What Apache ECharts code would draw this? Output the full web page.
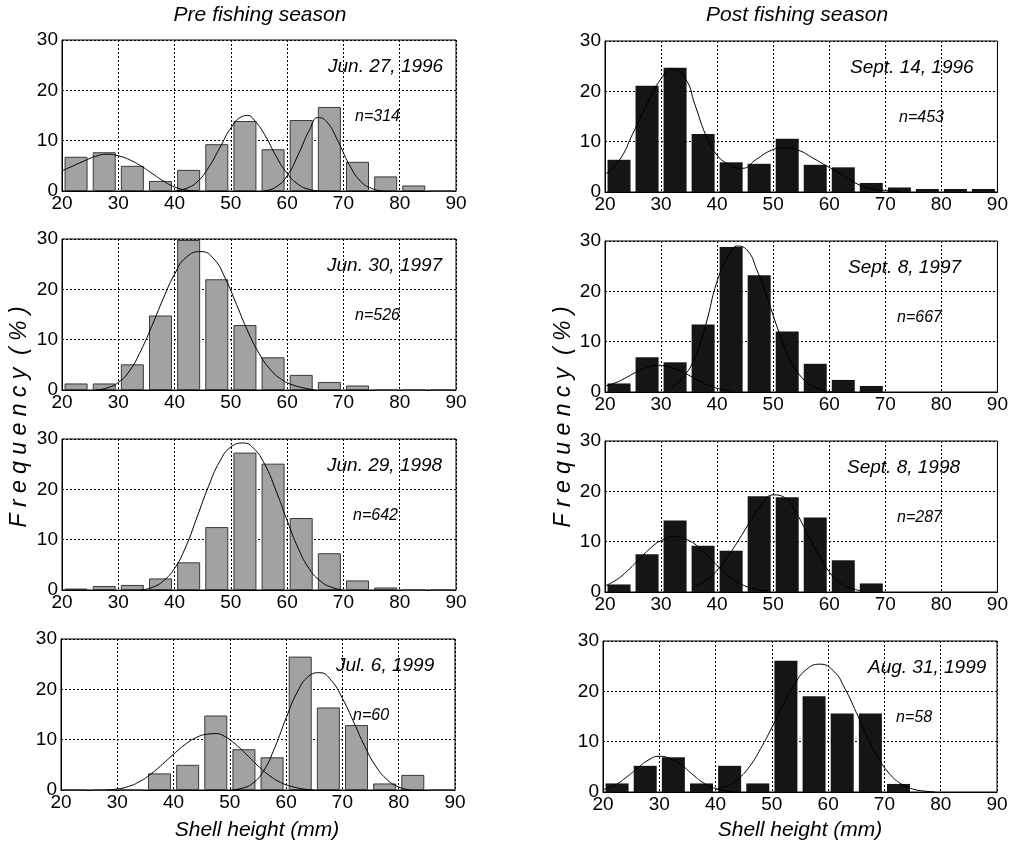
<!DOCTYPE html>
<html>
<head>
<meta charset="utf-8">
<script src="https://cdn.jsdelivr.net/npm/echarts@6/dist/echarts.min.js"></script>
<style>
  html, body { margin: 0; padding: 0; background: #fff; }
  #main { width: 1011px; height: 845px; }
</style>
</head>
<body>
<div id="main"></div>
<script>
// bin midpoints (5 mm classes, 20-90 mm)
var bins = [22.5, 27.5, 32.5, 37.5, 42.5, 47.5, 52.5, 57.5, 62.5, 67.5, 72.5, 77.5, 82.5, 87.5];

// frequency (%) per bin
var pre1996  = [6.8, 7.7, 5.0, 2.0, 4.2, 9.3, 13.9, 8.3, 14.1, 16.7, 5.8, 2.9, 1.1, 0];
var post1996 = [6.4, 21.1, 24.7, 11.5, 5.9, 5.6, 10.6, 5.4, 4.9, 1.8, 0.9, 0.6, 0.6, 0.6];
var pre1997  = [1.3, 1.3, 5.1, 14.8, 29.8, 22.0, 12.9, 6.5, 3.0, 1.6, 0.9, 0, 0, 0];
var post1997 = [1.7, 6.9, 5.9, 13.4, 28.8, 23.2, 12.0, 5.6, 2.4, 1.2, 0, 0, 0, 0];
var pre1998  = [0.3, 0.8, 1.0, 2.3, 5.5, 12.5, 27.3, 25.1, 14.3, 7.3, 1.9, 0.5, 0, 0];
var post1998 = [1.5, 7.5, 14.2, 9.2, 8.2, 19.0, 18.8, 14.8, 6.3, 1.7, 0, 0, 0, 0];
var pre1999  = [0, 0, 0, 3.3, 5.0, 14.8, 8.1, 6.5, 26.5, 16.4, 12.9, 1.3, 3.0, 0];
var post1999 = [1.7, 5.2, 6.9, 1.7, 5.2, 1.7, 26.1, 19.0, 15.6, 15.6, 1.6, 0, 0, 0];

// fitted curves as [shell height, %]
var fitPre1996a = [[20,4.0],[22,5.0],[24,6.0],[26,6.9],[28,7.3],[30,7.0],[32,6.2],[34,5.0],[36,3.5],[38,2.0],[40,0.8],[42,0.2],[44,0]];
var fitPre1996b = [[40,0],[42,0.5],[44,1.8],[46,4.6],[48,8.5],[50,12.5],[52,14.8],[53,15.0],[54,14.3],[56,11.2],[58,7.0],[60,3.5],[62,1.3],[64,0.3],[66,0]];
var fitPre1996c = [[56,0],[58,0.8],[60,3.0],[62,7.3],[64,12.2],[65.5,14.6],[67,13.8],[69,10.0],[71,5.3],[73,2.0],[75,0.5],[77,0]];
var fitPost1996 = [[20,3.5],[22.5,6.2],[25,11.7],[27.5,17.5],[30,22.5],[32,24.5],[34.4,22.4],[36,17.5],[37.9,11.5],[39.5,8.0],[42,5.5],[44.5,4.7],[47,6.5],[49.7,8.3],[52,8.8],[54.5,8.3],[57,6.8],[59.8,5.0],[62.5,3.3],[65,1.6],[67.5,0.7],[70,0.3],[72.5,0.1]];
var fitPre1997  = [[26,0],[28,0.4],[30,1.5],[32,3.8],[34,7.8],[36,12.8],[38,18.2],[40,23.0],[42,26.3],[44.7,27.5],[47,26.0],[49,22.2],[51,17.0],[53,11.7],[55,7.3],[57,4.1],[59,2.1],[61,1.0],[63,0.4],[65,0]];
var fitPost1997a = [[20,1.2],[22,1.9],[24,3.0],[26,4.2],[28,5.0],[29.5,5.3],[31,5.1],[33,4.4],[35,3.3],[37,2.1],[39,1.1],[41,0.5],[43,0.2]];
var fitPost1997b = [[32,1.0],[34,3.0],[36,6.8],[38,13.5],[40,22.0],[42,27.0],[43.7,29.0],[45.5,28.0],[47,24.5],[49,18.5],[51,12.0],[53,6.5],[55,3.0],[57,1.2],[59,0.3],[61,0]];
var fitPre1998  = [[34,0],[36,0.5],[38,1.8],[40,4.3],[42,8.6],[44,14.5],[46,20.5],[48,25.5],[50,28.4],[52.3,29.2],[54,28.2],[56,25.0],[58,19.8],[60,13.8],[62,8.2],[64,4.1],[66,1.7],[68,0.5],[70,0]];
var fitPost1998a = [[20,1.2],[22,2.4],[24,4.2],[26,6.4],[28,8.6],[30,10.2],[32.5,11.0],[35,10.2],[37,8.6],[39,6.4],[41,4.2],[43,2.4],[45,1.2],[47,0.5],[49,0.2]];
var fitPost1998b = [[36,1.2],[38,2.3],[40,4.3],[42,7.2],[44,10.6],[46,14.2],[48,17.5],[50,19.3],[52,18.8],[54,15.9],[56,11.8],[58,7.6],[60,4.0],[62,1.8],[64,0.7],[66,0.2]];
var fitPre1999a = [[28,0],[30,0.2],[32,0.7],[34,1.7],[36,3.2],[38,5.1],[40,7.1],[42,9.0],[44,10.4],[46,11.1],[47.5,11.2],[49,10.7],[51,9.1],[53,7.0],[55,4.8],[57,2.9],[59,1.5],[61,0.7],[63,0.2],[65,0]];
var fitPre1999b = [[50,0],[52,0.3],[54,1.3],[56,3.8],[58,8.5],[60,14.3],[62,19.5],[64,22.6],[66,23.3],[68,21.8],[70,18.2],[72,13.5],[74,8.6],[76,4.6],[78,2.0],[80,0.6],[82,0]];
var fitPost1999a = [[20,0.5],[22,1.3],[24,2.8],[26,4.6],[28,6.3],[30,7.1],[32,6.6],[34,5.3],[36,3.4],[38,1.7],[40,0.7],[42,0.2],[44,0]];
var fitPost1999b = [[40,0.5],[42,1.2],[44,2.6],[46,5.0],[48,8.6],[50,12.8],[52,17.3],[54,21.3],[56,24.2],[58.5,25.4],[61,24.0],[63,20.5],[65,15.8],[67,10.8],[69,6.6],[71,3.5],[73,1.6],[75,0.6],[77,0.2],[79,0]];

var dates = ['Jun. 27, 1996', 'Sept. 14, 1996', 'Jun. 30, 1997', 'Sept. 8, 1997',
             'Jun. 29, 1998', 'Sept. 8, 1998', 'Jul. 6, 1999', 'Aug. 31, 1999'];
var counts = ['n=314', 'n=453', 'n=526', 'n=667', 'n=642', 'n=287', 'n=60', 'n=58'];
var xTicks = [20, 30, 40, 50, 60, 70, 80, 90];
var yTicks = [0, 10, 20, 30];

var panels = [
  {freq: pre1996,  fits: [fitPre1996a, fitPre1996b, fitPre1996c], left: 62,  top: 40,  dx: 328, nx: 355},
  {freq: post1996, fits: [fitPost1996],                            left: 605, top: 41,  dx: 850, nx: 899},
  {freq: pre1997,  fits: [fitPre1997],                             left: 62,  top: 239, dx: 327, nx: 355},
  {freq: post1997, fits: [fitPost1997a, fitPost1997b],             left: 605, top: 241, dx: 848, nx: 897},
  {freq: pre1998,  fits: [fitPre1998],                             left: 62,  top: 439, dx: 327, nx: 353},
  {freq: post1998, fits: [fitPost1998a, fitPost1998b],             left: 605, top: 441, dx: 847, nx: 897},
  {freq: pre1999,  fits: [fitPre1999a, fitPre1999b],               left: 61,  top: 639, dx: 336, nx: 353},
  {freq: post1999, fits: [fitPost1999a, fitPost1999b],             left: 603, top: 641, dx: 868, nx: 896}
];

var FONT = '"Liberation Sans", Arial, sans-serif';
var chart = echarts.init(document.getElementById('main'), null, {renderer: 'canvas'});

var grids = [], xAxes = [], yAxes = [], series = [], graphics = [];

panels.forEach(function (p, i) {
  var isPost = (i % 2 === 1);
  grids.push({left: p.left, top: p.top, width: 394, height: 151,
              show: true, borderColor: '#000', borderWidth: 1, backgroundColor: '#fff'});
  xAxes.push({
    type: 'value', gridIndex: i, min: xTicks[0], max: xTicks[xTicks.length - 1], interval: 10,
    axisLine: {show: true, onZero: false, lineStyle: {color: '#000', width: 1}},
    axisTick: {show: false},
    axisLabel: {color: '#000', fontSize: 19, fontFamily: FONT, margin: 3},
    splitLine: {show: true, lineStyle: {color: '#000', type: [2, 2], width: 1}}
  });
  yAxes.push({
    type: 'value', gridIndex: i, min: yTicks[0], max: yTicks[yTicks.length - 1], interval: 10,
    axisLine: {show: true, lineStyle: {color: '#000', width: 1}},
    axisTick: {show: false},
    axisLabel: {color: '#000', fontSize: 19, fontFamily: FONT, margin: 4},
    splitLine: {show: true, lineStyle: {color: '#000', type: [2, 2], width: 1}}
  });
  series.push({
    type: 'bar', xAxisIndex: i, yAxisIndex: i, barWidth: 23,
    data: bins.map(function (b, k) { return [b, p.freq[k]]; }),
    itemStyle: isPost ? {color: '#151515'} : {color: '#a2a2a2', borderColor: '#3a3a3a', borderWidth: 1},
    z: 2
  });
  p.fits.forEach(function (f) {
    series.push({
      type: 'line', xAxisIndex: i, yAxisIndex: i, data: f, smooth: true,
      showSymbol: false, lineStyle: {color: '#000', width: 1}, z: 3
    });
  });
  graphics.push({type: 'text', x: p.dx, y: p.top + 27, z: 10,
    style: {text: dates[i], font: 'italic 19px ' + FONT, fill: '#000', textVerticalAlign: 'middle'}});
  graphics.push({type: 'text', x: p.nx, y: p.top + 77, z: 10,
    style: {text: counts[i], font: 'italic 16px ' + FONT, fill: '#000', textVerticalAlign: 'middle'}});
});

// column titles and axis names
graphics.push({type: 'text', x: 260, y: 15, style: {text: 'Pre fishing season', font: 'italic 21px ' + FONT, fill: '#000', textAlign: 'center', textVerticalAlign: 'middle'}});
graphics.push({type: 'text', x: 797, y: 15, style: {text: 'Post fishing season', font: 'italic 21px ' + FONT, fill: '#000', textAlign: 'center', textVerticalAlign: 'middle'}});
graphics.push({type: 'text', x: 257, y: 830, style: {text: 'Shell height (mm)', font: 'italic 21px ' + FONT, fill: '#000', textAlign: 'center', textVerticalAlign: 'middle'}});
graphics.push({type: 'text', x: 800, y: 830, style: {text: 'Shell height (mm)', font: 'italic 21px ' + FONT, fill: '#000', textAlign: 'center', textVerticalAlign: 'middle'}});
[20, 564].forEach(function (x) {
  graphics.push({type: 'text', x: x, y: 417, rotation: Math.PI / 2,
    style: {text: 'F r e q u e n c y  ( % )', font: 'italic 23px ' + FONT, fill: '#000', textAlign: 'center', textVerticalAlign: 'middle'}});
});

chart.setOption({
  animation: false,
  backgroundColor: '#fff',
  grid: grids,
  xAxis: xAxes,
  yAxis: yAxes,
  series: series,
  graphic: graphics
});
</script>
</body>
</html>
